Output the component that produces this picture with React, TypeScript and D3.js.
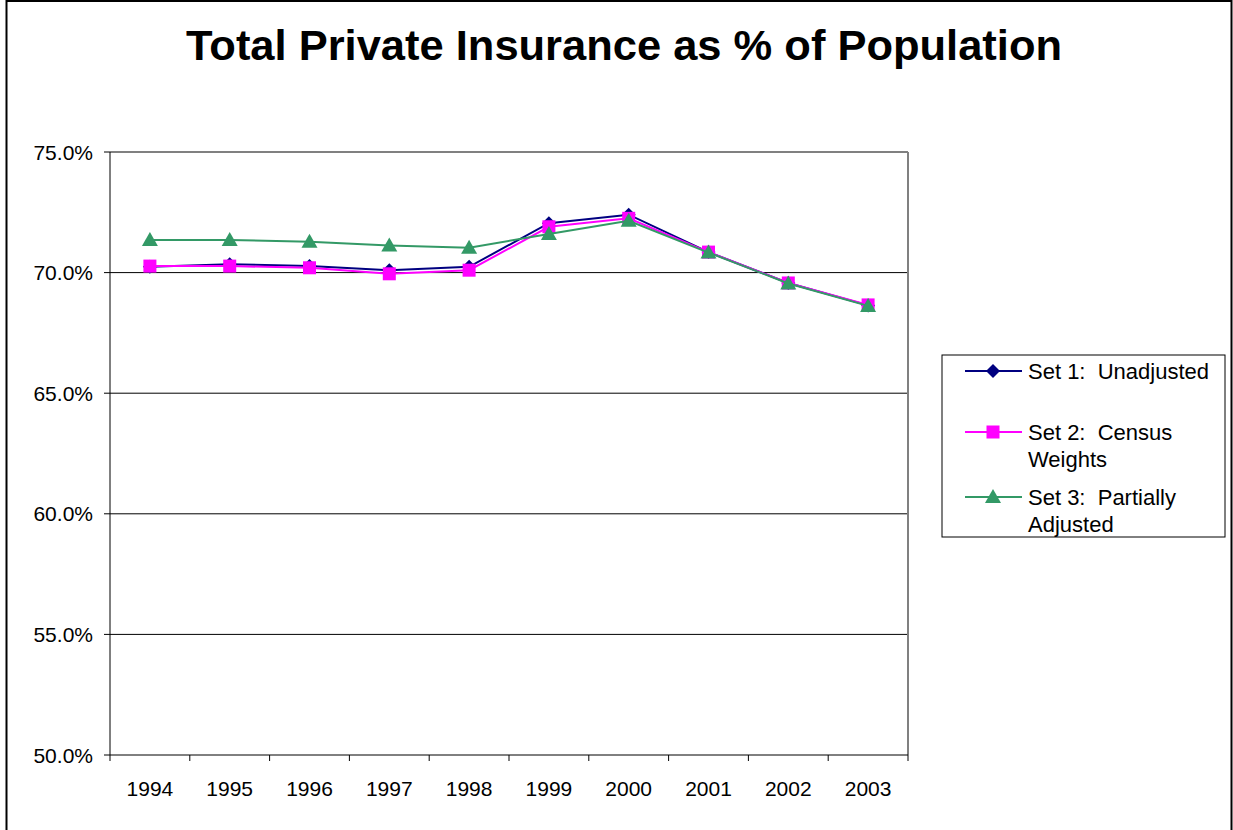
import React from "react";
import * as d3 from "d3";

const years = ["1994","1995","1996","1997","1998","1999","2000","2001","2002","2003"];
const set1 = [70.24, 70.35, 70.27, 70.1, 70.24, 72.05, 72.4, 70.85, 69.57, 68.64];
const set2 = [70.27, 70.27, 70.2, 69.95, 70.1, 71.9, 72.25, 70.85, 69.57, 68.66];
const set3 = [71.35, 71.35, 71.28, 71.12, 71.03, 71.6, 72.15, 70.83, 69.55, 68.62];
const yTicks = [50, 55, 60, 65, 70, 75];
const seriesNames = ["Set 1:  Unadjusted", "Set 2:  Census|Weights", "Set 3:  Partially|Adjusted"];
const colors = ["#000080", "#FF00FF", "#339966"];

export default function App() {
  const W = 1233, H = 830;
  const left = 110, right = 908, top = 152, bottom = 755;
  const x = d3.scaleBand().domain(years).range([left, right]);
  const y = d3.scaleLinear().domain([50, 75]).range([bottom, top]);
  const cx = (yr: string) => (x(yr) as number) + x.bandwidth() / 2;
  const line = d3.line<[string, number]>().x(d => cx(d[0])).y(d => y(d[1]));
  const all = [set1, set2, set3];
  const font = "Arial, 'Liberation Sans', sans-serif";

  const marker = (k: number, px: number, py: number, key: string) => {
    if (k === 0) return <path key={key} d={`M${px},${py-7}L${px+7},${py}L${px},${py+7}L${px-7},${py}Z`} fill={colors[0]} />;
    if (k === 1) return <rect key={key} x={px-6.5} y={py-6.5} width={13} height={13} fill={colors[1]} />;
    return <path key={key} d={`M${px},${py-8}L${px+8},${py+6}L${px-8},${py+6}Z`} fill={colors[2]} />;
  };

  const legendRows = [371, 432, 497];

  return (
    <svg width={W} height={H} style={{ position: "absolute", left: 0, top: 0, display: "block" }} fontFamily={font}>
      <rect x={0} y={0} width={W} height={H} fill="#fff" />
      <rect x={6.5} y={1} width={1225} height={840} fill="none" stroke="#000" strokeWidth={2} />
      <text x={624} y={60} textAnchor="middle" fontSize={42} fontWeight="bold" textLength={876} lengthAdjust="spacingAndGlyphs">Total Private Insurance as % of Population</text>

      {yTicks.filter(t => t !== 50 && t !== 75).map(t => (
        <line key={t} x1={left} x2={right} y1={y(t)} y2={y(t)} stroke="#000" strokeWidth={1} />
      ))}
      <line x1={left} x2={right} y1={top} y2={top} stroke="#808080" strokeWidth={2} />
      <line x1={right} x2={right} y1={top} y2={bottom} stroke="#808080" strokeWidth={2} />
      <line x1={left} x2={left} y1={top} y2={bottom} stroke="#000" strokeWidth={1} />
      <line x1={left} x2={right} y1={bottom} y2={bottom} stroke="#000" strokeWidth={1} />
      {yTicks.map(t => (
        <g key={t}>
          <line x1={left - 6} x2={left} y1={y(t)} y2={y(t)} stroke="#000" />
          <text x={93} y={y(t) + 7.5} textAnchor="end" fontSize={21}>{t.toFixed(1)}%</text>
        </g>
      ))}
      {years.map((yr) => (
        <line key={yr} x1={(x(yr) as number)} x2={(x(yr) as number)} y1={bottom} y2={bottom + 6} stroke="#000" />
      ))}
      <line x1={right} x2={right} y1={bottom} y2={bottom + 6} stroke="#000" />
      {years.map(yr => (
        <text key={yr} x={cx(yr)} y={796} textAnchor="middle" fontSize={21}>{yr}</text>
      ))}

      {all.map((s, k) => (
        <g key={k}>
          <path d={line(years.map((yr, i) => [yr, s[i]]) as [string, number][]) || ""} fill="none" stroke={colors[k]} strokeWidth={2} />
          {years.map((yr, i) => marker(k, cx(yr), y(s[i]), `${k}-${i}`))}
        </g>
      ))}

      <rect x={942} y={355} width={283} height={182} fill="#fff" stroke="#000" strokeWidth={1} />
      {seriesNames.map((nm, k) => {
        const ry = legendRows[k];
        const lines = nm.split("|");
        return (
          <g key={k}>
            <line x1={965} x2={1022} y1={ry} y2={ry} stroke={colors[k]} strokeWidth={2} />
            {marker(k, 993, ry, `lg${k}`)}
            {lines.map((l, j) => (
              <text key={j} x={1028} y={ry + 8 + j * 27} fontSize={22} xmlSpace="preserve" style={{ whiteSpace: "pre" }}>{l}</text>
            ))}
          </g>
        );
      })}
    </svg>
  );
}
